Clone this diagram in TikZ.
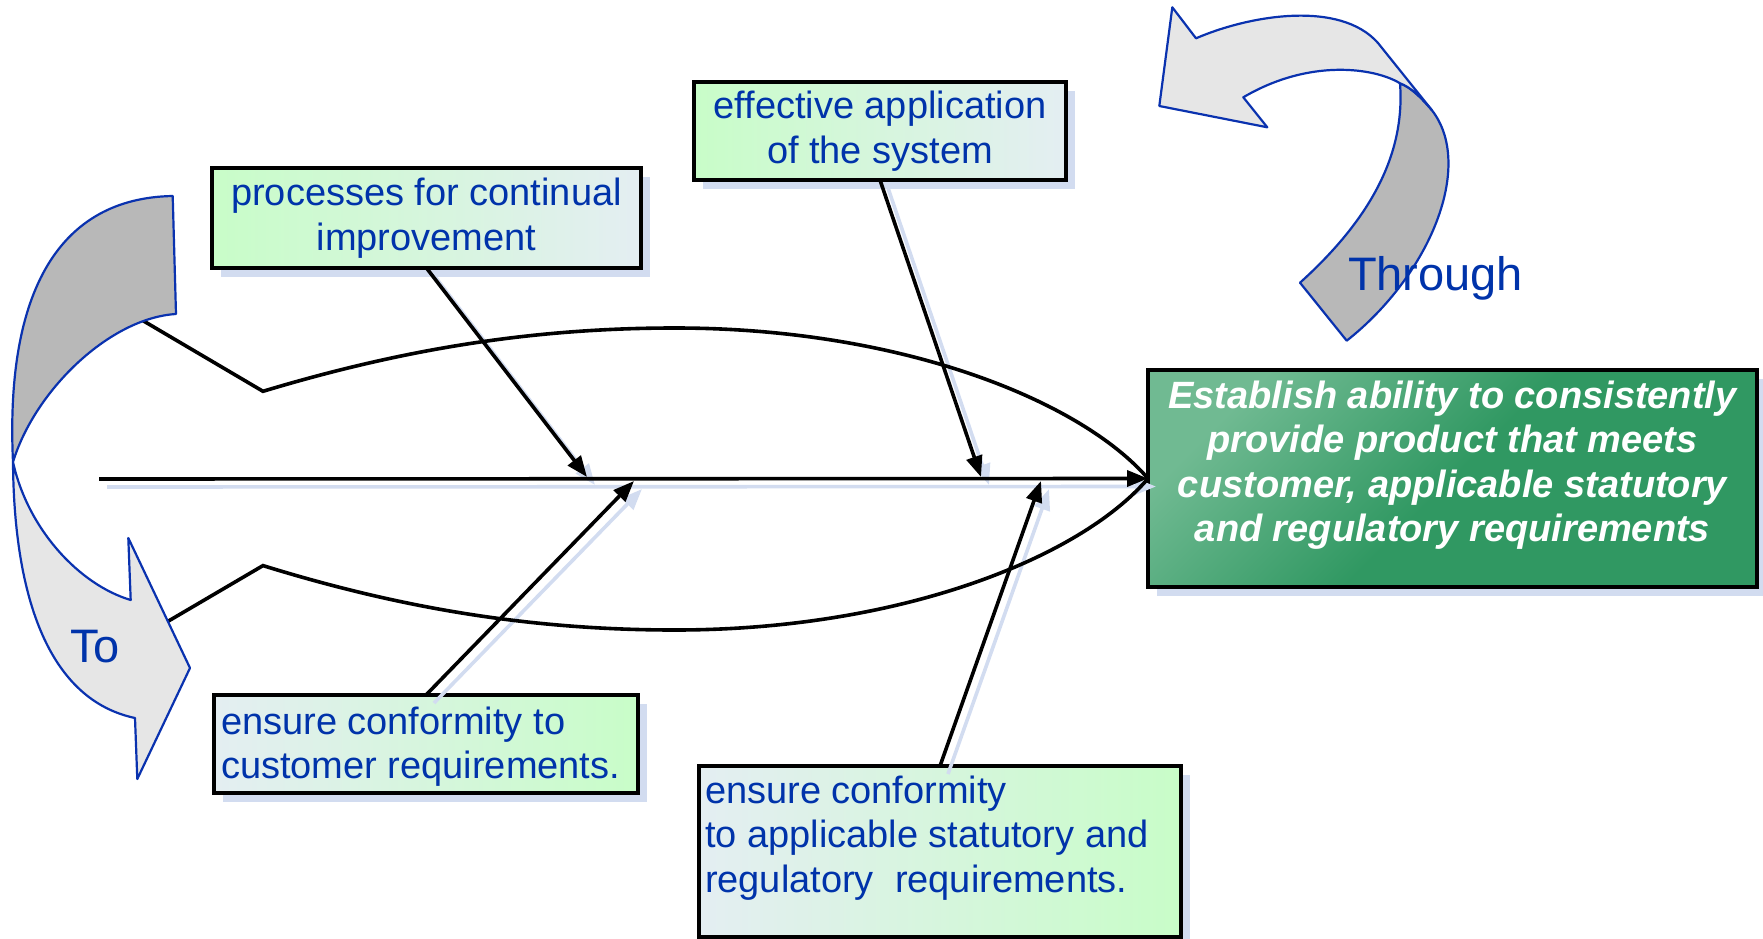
\documentclass[tikz,border=0pt]{standalone}
\usepackage{fontspec}
\setmainfont{Liberation Sans}
\usetikzlibrary{arrows.meta,shadows}

\definecolor{txtblue}{RGB}{0,51,170}
\definecolor{edgeblue}{RGB}{10,50,175}
\definecolor{shadowblue}{RGB}{210,220,240}
\definecolor{palegreen}{RGB}{200,253,200}
\definecolor{palecyan}{RGB}{228,238,242}
\definecolor{goalA}{RGB}{112,186,146}
\definecolor{goalB}{RGB}{48,152,98}
\definecolor{ribbonlight}{RGB}{230,230,230}
\definecolor{ribbondark}{RGB}{184,184,184}

\begin{document}
\begin{tikzpicture}[x=1pt,y=-1pt,
  every node/.style={inner sep=0pt,outer sep=0pt},
  causetext/.style={font=\fontsize{38pt}{44.5pt}\selectfont, text=txtblue},
  goaltext/.style={font=\bfseries\itshape\fontsize{38pt}{44.5pt}\selectfont, text=white, align=center},
  bigword/.style={font=\fontsize{47pt}{52pt}\selectfont, text=txtblue},
  causebox/.style={draw=black, line width=4.2pt, rectangle,
    drop shadow={shadow xshift=9pt, shadow yshift=-9pt, fill=shadowblue, opacity=1}},
  bone/.style={draw=black, line width=3.6pt, -{Triangle[length=21pt,width=16pt]}},
  boneshadow/.style={draw=shadowblue, line width=3.6pt, -{Triangle[length=21pt,width=16pt]}},
  fishline/.style={draw=black, line width=3.6pt, line join=miter},
  ribbon/.style={draw=edgeblue, line width=2.2pt, line join=round},
]
\useasboundingbox (0,0) rectangle (1763,939);

% ---- cause boxes and the goal box ----
\node[causebox, left color=palegreen, right color=palecyan,
      minimum width=429pt, minimum height=100pt] (A) at (426.5,218) {};
\node[causetext, align=center] (Atext) at (426.5,218) {processes for continual\\improvement};

\node[causebox, left color=palegreen, right color=palecyan,
      minimum width=372pt, minimum height=98pt] (B) at (880,131) {};
\node[causetext, align=center] (Btext) at (880,131) {effective application\\of the system};

\node[causebox, left color=palecyan, right color=palegreen,
      minimum width=424pt, minimum height=98pt] (C) at (426,744) {};
\node[causetext, align=left, anchor=west] (Ctext) at (221,746.7) {ensure conformity to\\customer requirements.};

\node[causebox, left color=palecyan, right color=palegreen,
      minimum width=482pt, minimum height=171pt] (D) at (940,851.5) {};
\node[causetext, align=left, anchor=west] (Dtext) at (705,837.7)
  {ensure conformity\\to applicable statutory and\\regulatory~~requirements.};

\node[causebox, top color=goalA, bottom color=goalB, middle color=goalB, shading angle=45,
      minimum width=609pt, minimum height=217pt] (goal) at (1452.5,478.5) {};
\node[goaltext] (goaltxt) at (1452.5,465)
  {Establish ability to consistently\\provide product that meets\\customer, applicable statutory\\and regulatory requirements};

% ---- points where the bones meet the spine ----
\coordinate (spineL) at (99,479);
\coordinate (s1) at (587,477);
\coordinate (s2) at (981,477);
\coordinate (s3) at (634,481);
\coordinate (s4) at (1041,481);

% ---- soft shadows of the spine and bones ----
\draw[boneshadow] ([shift={(8,8)}]spineL) -- ([shift={(8,8)}]goal.west);
\draw[boneshadow] ([shift={(8,8)}]A.south) -- ([shift={(8,8)}]s1);
\draw[boneshadow] ([shift={(8,8)}]B.south) -- ([shift={(8,8)}]s2);
\draw[boneshadow] ([shift={(8,8)}]C.north) -- ([shift={(8,8)}]s3);
\draw[boneshadow] ([shift={(8,8)}]D.north) -- ([shift={(8,8)}]s4);

% ---- fish outline ----
\coordinate (tailT) at (130,313);
\coordinate (tailB) at (160,626);
\coordinate (neckT) at (263,391.3);
\coordinate (neckB) at (263,565.6);
\draw[fishline] (tailT) -- (neckT)
  .. controls (400,350) and (530,328) .. (675,328)
  .. controls (900,328) and (1080,400) .. (goal.west);
\draw[fishline] (tailB) -- (neckB)
  .. controls (400,608) and (530,630) .. (675,630)
  .. controls (900,630) and (1080,558) .. (goal.west);

% ---- left twisted ribbon arrow ----
\coordinate (Ltt) at (172.7,196);
\coordinate (Ltb) at (176,314);
\coordinate (Ltw) at (13,462);
\coordinate (Lob) at (135,718);
\coordinate (Lbt) at (137.3,779);
\coordinate (Ltip) at (190,668);
\coordinate (Lbb) at (128.3,538);
\coordinate (Lib) at (130.7,600);
\filldraw[ribbon, fill=ribbondark] (Ltt) .. controls (60,198) and (5,290) .. (Ltw)
  .. controls (35,390) and (110,318) .. (Ltb) -- cycle;
\filldraw[ribbon, fill=ribbonlight] (Ltw) .. controls (14,600) and (50,700) .. (Lob)
  -- (Lbt) -- (Ltip) -- (Lbb) -- (Lib)
  .. controls (80,585) and (28,530) .. (Ltw) -- cycle;
\node[bigword, anchor=base west] (toword) at (70,662) {To};

% ---- upper right twisted ribbon arrow ----
\coordinate (Ttl) at (1300,282.7);
\coordinate (Ttr) at (1346.7,340.7);
\coordinate (Tfold) at (1431.7,110);
\coordinate (Tin) at (1400,83.3);
\coordinate (Ttop) at (1378,43);
\coordinate (Tob) at (1196,38.3);
\coordinate (Tbt) at (1172.3,7.3);
\coordinate (Ttip) at (1159.3,106);
\coordinate (Tbb) at (1267.3,127.3);
\coordinate (Tib) at (1243.3,97.3);
\filldraw[ribbon, fill=ribbondark] (Ttl) -- (Ttr)
  .. controls (1430,275) and (1475,165) .. (Tfold)
  .. controls (1420,96) and (1410,87) .. (Tin)
  .. controls (1405,150) and (1375,215) .. (Ttl) -- cycle;
\filldraw[ribbon, fill=ribbonlight] (Tob) .. controls (1250,15) and (1340,0) .. (Ttop)
  -- (Tfold) .. controls (1420,96) and (1410,87) .. (Tin)
  .. controls (1375,68) and (1310,58) .. (Tib)
  -- (Tbb) -- (Ttip) -- (Tbt) -- cycle;
\node[bigword, anchor=base west] (throughword) at (1348,290) {Through};

% ---- spine and bones ----
\draw[bone] (spineL) -- (goal.west);
\draw[bone] (A.south) -- (s1);
\draw[bone] (B.south) -- (s2);
\draw[bone] (C.north) -- (s3);
\draw[bone] (D.north) -- (s4);
\end{tikzpicture}
\end{document}
